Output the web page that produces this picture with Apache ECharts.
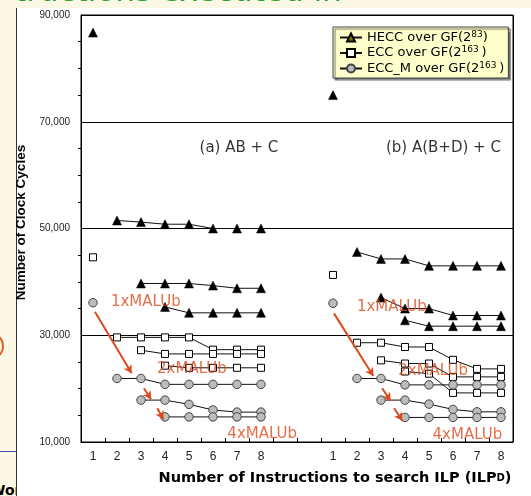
<!DOCTYPE html>
<html>
<head>
<meta charset="utf-8">
<script src="https://cdn.jsdelivr.net/npm/echarts@6/dist/echarts.min.js"></script>
<style>
  html, body { margin:0; padding:0; width:531px; height:496px; overflow:hidden; background:#fcf8e6; position:relative; }
  #slideTitle { position:absolute; left:14px; top:-25px; font-family:'DejaVu Sans', sans-serif; font-size:31px; line-height:30px; color:#2f9e32; white-space:nowrap; }
  #ring { position:absolute; left:-24px; top:332px; width:24px; height:24px; border:2px solid #e0601c; border-radius:50%; }
  #blueLine { position:absolute; left:0; top:451px; width:17px; height:1px; background:#4a4aa8; }
  #wor { position:absolute; left:-10px; top:482px; font-family:'DejaVu Sans', sans-serif; font-weight:bold; font-size:14px; color:#000; }
  #panel { position:absolute; left:16px; top:8px; width:515px; height:488px; background:#fff; border-left:1px solid #333; }
  #chart { position:absolute; left:0; top:0; width:531px; height:496px; }
</style>
</head>
<body>
<div id="slideTitle">tructions executed in</div>
<div id="ring"></div>
<div id="blueLine"></div>
<div id="wor">Wor</div>
<div id="panel"></div>
<div id="chart"></div>
<script>
// ---- tick labels / categories ----
const ilpLabels = ['1', '2', '3', '4', '5', '6', '7', '8'];
const yTicks = [10000, 30000, 50000, 70000, 90000];
const maluNames = ['1xMALUb', '2xMALUb', '3xMALUb', '4xMALUb'];

// ---- Panel (a) AB + C : rows = 1x,2x,3x,4x MALUb ; cols = ILP 1..8 ----
const heccA = [
  [86700, null, null, null, null, null, null, null],
  [null, 51500, 51200, 50800, 50800, 50000, 50000, 50000],
  [null, null, 39700, 39700, 39700, 39300, 38800, 38800],
  [null, null, null, 35300, 34200, 34200, 34200, 34200]
];
const eccA = [
  [44600, null, null, null, null, null, null, null],
  [null, 29600, 29600, 29600, 29600, 27300, 27300, 27300],
  [null, null, 27200, 26500, 26500, 26500, 26500, 26500],
  [null, null, null, 24300, 23900, 23900, 23900, 23900]
];
const eccmA = [
  [36100, null, null, null, null, null, null, null],
  [null, 21900, 21900, 20800, 20800, 20800, 20800, 20800],
  [null, null, 17850, 17850, 17050, 16000, 15600, 15600],
  [null, null, null, 14700, 14700, 14700, 14700, 14700]
];

// ---- Panel (b) A(B+D) + C ----
const heccB = [
  [75000, null, null, null, null, null, null, null],
  [null, 45600, 44300, 44300, 43000, 43000, 43000, 43000],
  [null, null, 37050, 35000, 35000, 33700, 33700, 33700],
  [null, null, null, 32800, 31700, 31700, 31700, 31700]
];
const eccB = [
  [41300, null, null, null, null, null, null, null],
  [null, 28600, 28600, 27800, 27800, 25400, 23700, 23700],
  [null, null, 25300, 24700, 24700, 22200, 22200, 22200],
  [null, null, null, 23200, 22800, 19200, 19200, 19200]
];
const eccmB = [
  [36000, null, null, null, null, null, null, null],
  [null, 21900, 21900, 20700, 20700, 20700, 20700, 20700],
  [null, null, 17850, 17850, 17100, 16100, 15650, 15650],
  [null, null, null, 14600, 14600, 14600, 14600, 14600]
];

// ---- build the 18-slot category axis: panel a (8) + 2 empty slots + panel b (8) ----
const categories = ilpLabels.concat(['', '']).concat(ilpLabels);
function joinPanels(a, b) { return a.concat([null, null]).concat(b); }

const FONT = "'DejaVu Sans', sans-serif";
const ARIAL = "'Liberation Sans', Arial, sans-serif";
const RED = '#dc4a1c';

const typeDefs = [
  { name: 'HECC', a: heccA, b: heccB, symbol: 'triangle', size: 9, item: { color: '#000', borderColor: '#000', borderWidth: 0.5 } },
  { name: 'ECC', a: eccA, b: eccB, symbol: 'rect', size: 7, item: { color: '#fff', borderColor: '#000', borderWidth: 1 } },
  { name: 'ECC_M', a: eccmA, b: eccmB, symbol: 'circle', size: 8.5, item: { color: '#bcbcbc', borderColor: '#444', borderWidth: 1 } }
];

const series = [];
typeDefs.forEach(t => {
  maluNames.forEach((m, i) => {
    series.push({
      name: t.name,
      type: 'line',
      xAxisIndex: 0,
      yAxisIndex: 0,
      data: joinPanels(t.a[i], t.b[i]),
      symbol: t.symbol,
      symbolSize: t.size,
      showSymbol: true,
      showAllSymbol: true,
      connectNulls: false,
      lineStyle: { color: '#111', width: 1 },
      itemStyle: t.item,
      z: 3,
      animation: false
    });
  });
});

// ---- annotations in data space (hidden value x-axis 0..18) ----
const annoLabels = [
  { value: [2.7, 36200], name: '1xMALUb' },
  { value: [4.62, 23650], name: '2xMALUb' },
  { value: [7.55, 11500], name: '4xMALUb' },
  { value: [12.95, 35300], name: '1xMALUb' },
  { value: [14.67, 23300], name: '2xMALUb' },
  { value: [16.1, 11350], name: '4xMALUb' },
  { value: [6.58, 65100], name: '(a) AB + C', label: { color: '#000', fontSize: 15 } },
  { value: [15.1, 65100], name: '(b) A(B+D) + C', label: { color: '#000', fontSize: 15 } }
];
const arrows = [
  [[0.58, 34400], [2.11, 22870]],
  [[2.62, 20060], [2.92, 18000]],
  [[3.18, 16310], [3.43, 14250]],
  [[10.54, 34100], [12.18, 22370]],
  [[12.55, 20060], [12.9, 17680]],
  [[13.05, 16310], [13.39, 13990]]
];

series.push({
  name: 'annotations',
  type: 'scatter',
  xAxisIndex: 1,
  yAxisIndex: 0,
  symbolSize: 0,
  data: annoLabels,
  z: 10,
  silent: true,
  animation: false,
  label: {
    show: true,
    position: 'inside',
    formatter: p => p.name,
    fontFamily: FONT,
    fontSize: 15,
    color: RED
  },
  markLine: {
    silent: true,
    animation: false,
    symbol: ['none', 'arrow'],
    symbolSize: [7, 8],
    label: { show: false },
    lineStyle: { color: RED, width: 2, type: 'solid' },
    data: arrows.map(a => [{ coord: a[0] }, { coord: a[1] }])
  }
});

const legendText = {
  HECC: '{t|HECC over GF(2}{s|83}{t|)}',
  ECC: '{t|ECC over GF(2}{s|163 }{t|)}',
  ECC_M: '{t|ECC_M over GF(2}{s|163 }{t|)}'
};

const chart = echarts.init(document.getElementById('chart'), null, { renderer: 'canvas' });
chart.setOption({
  animation: false,
  grid: {
    left: 81, top: 15, width: 432, height: 427,
    show: true, borderColor: '#000', borderWidth: 1, backgroundColor: 'transparent'
  },
  legend: {
    left: 333, top: 27,
    orient: 'vertical',
    itemWidth: 22, itemHeight: 10, itemGap: 1.5,
    padding: [3, 4, 3, 6],
    backgroundColor: '#ffffcc',
    borderColor: '#444', borderWidth: 1,
    shadowColor: 'rgba(0,0,0,0.55)', shadowOffsetX: 2, shadowOffsetY: 2, shadowBlur: 1,
    data: [
      { name: 'HECC', itemStyle: { color: '#7a7a00', borderColor: '#000' } },
      { name: 'ECC' },
      { name: 'ECC_M' }
    ],
    formatter: n => legendText[n],
    selectedMode: false,
    textStyle: {
      rich: {
        t: { fontFamily: FONT, fontSize: 13, color: '#000', lineHeight: 15 },
        s: { fontFamily: FONT, fontSize: 9, color: '#000', lineHeight: 11, verticalAlign: 'top' }
      }
    }
  },
  xAxis: [
    {
      type: 'category',
      data: categories,
      boundaryGap: true,
      axisLine: { lineStyle: { color: '#000', width: 1 } },
      axisTick: { show: true, inside: true, length: 4, interval: 0, lineStyle: { color: '#000' } },
      axisLabel: { interval: 0, fontFamily: ARIAL, fontSize: 12, color: '#222', margin: 9 },
      splitLine: { show: true, interval: (idx) => idx === 9, lineStyle: { color: '#000', width: 1 } },
      name: '{n|Number of Instructions to search ILP (ILP}{d|D}{n|)}',
      nameLocation: 'middle',
      nameGap: 29,
      nameTextStyle: {
        padding: [0, 0, 0, 76],
        rich: {
          n: { fontFamily: FONT, fontWeight: 'bold', fontSize: 14.5, color: '#000' },
          d: { fontFamily: FONT, fontWeight: 'bold', fontSize: 10, color: '#000' }
        }
      }
    },
    { type: 'value', min: 0, max: 18, show: false, gridIndex: 0 }
  ],
  yAxis: {
    type: 'value',
    min: yTicks[0],
    max: yTicks[yTicks.length - 1],
    interval: yTicks[1] - yTicks[0],
    axisLine: { show: true, lineStyle: { color: '#000', width: 1 } },
    axisTick: { show: false },
    minorTick: { show: true, splitNumber: 4, length: 3, lineStyle: { color: '#000' } },
    axisLabel: { fontFamily: ARIAL, fontSize: 10, color: '#222', margin: 11, formatter: v => v.toLocaleString('en-US') },
    splitLine: { show: true, lineStyle: { color: '#000', width: 1 } },
    name: 'Number of Clock Cycles',
    nameLocation: 'middle',
    nameGap: 47,
    nameTextStyle: { fontFamily: ARIAL, fontWeight: 'bold', fontSize: 13.5, color: '#000', padding: [0, 0, 0, 12] }
  },
  series: series
});
</script>
</body>
</html>
